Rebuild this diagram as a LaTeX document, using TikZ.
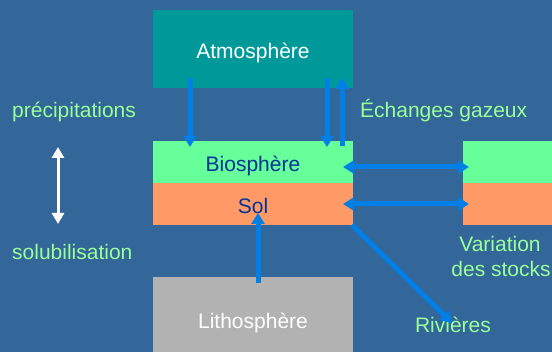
\documentclass[tikz,border=0pt]{standalone}
\usepackage{fontspec}
\setmainfont{Liberation Sans}
\usetikzlibrary{arrows.meta}
\definecolor{fond}{RGB}{51,102,153}
\definecolor{atmocol}{RGB}{0,153,153}
\definecolor{biocol}{RGB}{102,255,153}
\definecolor{solcol}{RGB}{255,153,102}
\definecolor{lithocol}{RGB}{178,178,178}
\definecolor{flux}{RGB}{0,128,230}
\definecolor{legende}{RGB}{153,255,153}
\definecolor{bleufonce}{RGB}{0,51,153}
\tikzset{
    box/.style = {inner sep=0pt, minimum width=200pt, text height=19pt, text depth=0pt, font=\fontsize{21}{25}\selectfont},
    label/.style = {inner sep=0pt, text=legende, font=\fontsize{21}{25}\selectfont},
    fleche/.style = {draw=flux, line width=5pt, -{Triangle[width=13pt,length=11pt]}},
    double/.style = {draw=flux, line width=5pt, {Triangle[width=13pt,length=11pt]}-{Triangle[width=13pt,length=11pt]}}
}

\begin{document}
\begin{tikzpicture}[x=1pt, y=-1pt]
    \fill [fond] (0, 0) rectangle (552, 352);
    \useasboundingbox (0, 0) rectangle (552, 352);
    % compartiments
    \node [box, fill=atmocol, minimum height=78pt, text=white] (atmo) at (253, 49) {Atmosphère};
    \node [box, fill=biocol, minimum height=42pt, text=bleufonce] (bio) at (253, 162) {Biosphère};
    \node [box, fill=solcol, minimum height=42pt, text=bleufonce] (sol) at (253, 204) {Sol};
    \node [box, fill=lithocol, minimum height=84pt, text=white] (litho) at (253, 319) {Lithosphère};
    \node [box, fill=biocol, minimum width=97pt, minimum height=42pt] (bio2) at (511.5, 162) {};
    \node [box, fill=solcol, minimum width=97pt, minimum height=42pt] (sol2) at (511.5, 204) {};
    % textes
    \node [label, anchor=base west] (precip) at (12, 118) {précipitations};
    \node [label, anchor=base west] (solub) at (12, 260) {solubilisation};
    \node [label, anchor=base west] (echanges) at (360, 118) {Échanges gazeux};
    \node [label, anchor=base] (variation) at (500, 252) {Variation};
    \node [label, anchor=base] (stocks) at (501, 277) {des stocks};
    \node [label, anchor=base] (rivieres) at (453, 333) {Rivières};
    % points des fleches
    \coordinate (p1) at (190, 78);
    \coordinate (p2) at (190, 147);
    \coordinate (g1) at (327, 78);
    \coordinate (g2) at (327, 147);
    \coordinate (g3) at (342, 146);
    \coordinate (g4) at (342, 78);
    \coordinate (b1) at (343, 167);
    \coordinate (b2) at (469, 167);
    \coordinate (s1) at (343, 204);
    \coordinate (s2) at (469, 204);
    \coordinate (l1) at (258, 283);
    \coordinate (l2) at (258, 213);
    \coordinate (r1) at (352, 225);
    \coordinate (r2) at (452, 323);
    \coordinate (w1) at (58, 147);
    \coordinate (w2) at (58, 224);
    % fleches
    \draw [fleche] (p1) to (p2);
    \draw [fleche] (g1) to (g2);
    \draw [fleche] (g3) to (g4);
    \draw [double] (b1) to (b2);
    \draw [double] (s1) to (s2);
    \draw [fleche] (l1) to (l2);
    \draw [fleche] (r1) to (r2);
    \draw [white, line width=3pt, {Triangle[width=12pt,length=11pt]}-{Triangle[width=12pt,length=11pt]}] (w1) to (w2);
\end{tikzpicture}
\end{document}
